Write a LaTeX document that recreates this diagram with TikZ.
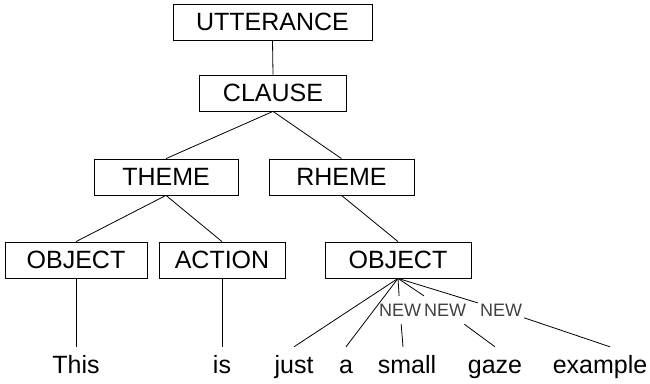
\documentclass[tikz,border=0pt]{standalone}
\usepackage{fontspec}
\setmainfont{Liberation Sans}
\begin{document}
\begin{tikzpicture}[x=1pt,y=-1pt,
  box/.style={draw, line width=0.8pt, minimum height=36pt, inner sep=0pt,
    font=\fontsize{25}{30}\selectfont},
  word/.style={anchor=base, inner xsep=0pt, inner ysep=8pt, text height=18pt,
    font=\fontsize{25}{30}\selectfont},
  newlab/.style={inner xsep=2pt, inner ysep=0pt, minimum height=28pt, text height=13pt,
    text depth=0pt, text=black!75, font=\fontsize{18}{22}\selectfont},
  conn/.style={line width=0.8pt}
]
\useasboundingbox (0,0) rectangle (650,383);
\node[box, minimum width=199pt] (utt) at (272.5,22) {UTTERANCE};
\node[box, minimum width=147pt] (clause) at (273,93) {CLAUSE};
\node[box, minimum width=144pt] (theme) at (166,177) {THEME};
\node[box, minimum width=145pt] (rheme) at (341.5,177) {RHEME};
\node[box, minimum width=142pt] (objl) at (76,260) {OBJECT};
\node[box, minimum width=126pt] (action) at (222,260) {ACTION};
\node[box, minimum width=146pt] (objr) at (398,260) {OBJECT};

\node[word] (this) at (76,373) {This};
\node[word] (is) at (222,373) {is};
\node[word] (just) at (294,373) {just};
\node[word] (a) at (346,373) {a};
\node[word] (small) at (407,373) {small};
\node[word] (gaze) at (495,373) {gaze};
\node[word] (example) at (600,373) {example};

\node[newlab] (new1) at (400,310) {NEW};
\node[newlab] (new2) at (445,310) {NEW};
\node[newlab] (new3) at (501,310) {NEW};

\draw[conn] (utt.south) -- (clause.north);
\draw[conn] (clause.south) -- (theme.north);
\draw[conn] (clause.south) -- (rheme.north);
\draw[conn] (theme.south) -- (objl.north);
\draw[conn] (theme.south) -- (action.north);
\draw[conn] (rheme.south) -- (objr.north);
\draw[conn] (objl.south) -- (this.north);
\draw[conn] (action.south) -- (is.north);
\draw[conn] (objr.south) -- (just.north);
\draw[conn] (objr.south) -- (a.north);
\draw[conn] (objr.south) -- (new1);
\draw[conn] (objr.south) -- (new2);
\draw[conn] (objr.south) -- (new3);
\draw[conn] (new1) -- ([xshift=-4pt]small.north);
\draw[conn] (new2) -- (gaze.north);
\draw[conn] (new3) -- ([xshift=10pt]example.north);
\end{tikzpicture}
\end{document}
